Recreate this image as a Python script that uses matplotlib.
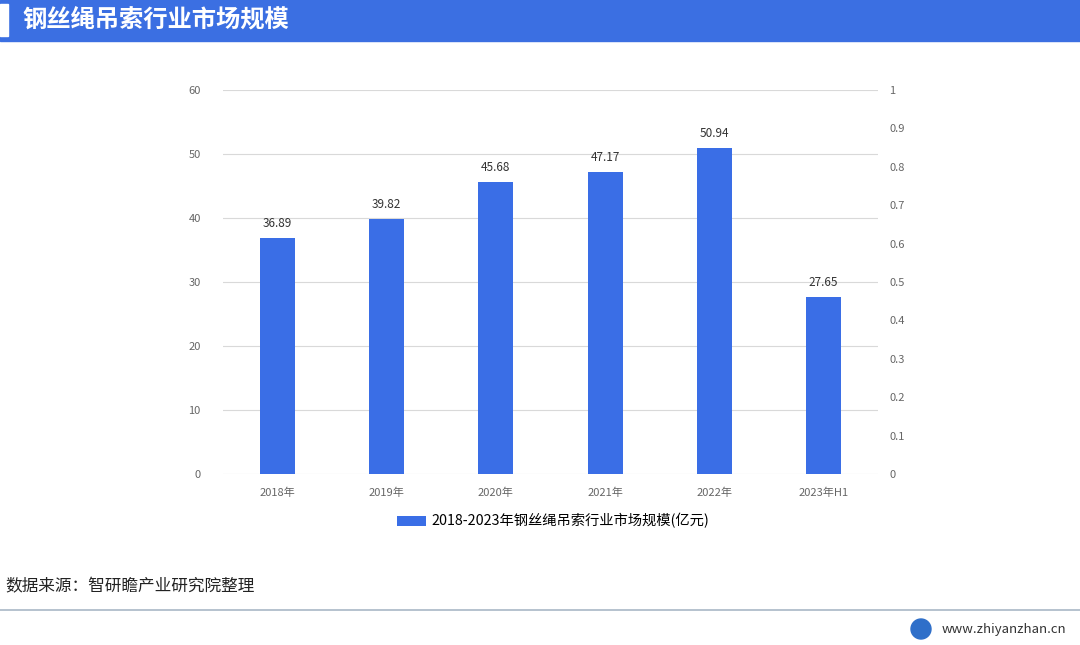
import numpy as np
import matplotlib.pyplot as plt
from matplotlib.patches import Rectangle, Ellipse

plt.rcParams['font.family'] = ['Noto Sans CJK SC', 'DejaVu Sans']

# data
categories = ['2018年', '2019年', '2020年', '2021年', '2022年', '2023年H1']
values = [36.89, 39.82, 45.68, 47.17, 50.94, 27.65]
series_name = '2018-2023年钢丝绳吊索行业市场规模(亿元)'
title = '钢丝绳吊索行业市场规模'
source = '数据来源：智研瞻产业研究院整理'
site = 'www.zhiyanzhan.cn'

blue = '#3a6ee6'
W, H = 1080, 645
fig = plt.figure(figsize=(W / 100, H / 100), dpi=100)

# header bar
fig.patches.append(Rectangle((0, 1 - 41 / H), 1, 41 / H, transform=fig.transFigure,
                             color='#3b6fe2', zorder=0))
fig.patches.append(Rectangle((0, 1 - 36 / H), 8 / W, 32 / H, transform=fig.transFigure,
                             color='white', zorder=1))
fig.text(22 / W, 1 - 19 / H, title, color='white', fontsize=17.5, fontweight='bold',
         va='center', ha='left')

# main axes
ax = fig.add_axes([223 / W, 1 - 474 / H, 655 / W, 384 / H])
x = np.arange(len(categories))
bars = ax.bar(x, values, width=0.32, color=blue, label=series_name, zorder=3)
for xi, v in zip(x, values):
    ax.text(xi, v + 1.2, f'{v:.2f}', ha='center', va='bottom', fontsize=8.5,
            color='#333333', fontweight='medium')

ax.set_xlim(-0.5, len(categories) - 0.5)
ax.set_ylim(0, 60)
ax.set_yticks(range(0, 61, 10))
ax.set_xticks(x)
ax.set_xticklabels(categories)
ax.grid(axis='y', color='#d9d9d9', linewidth=0.8, zorder=0)
for s in ax.spines.values():
    s.set_visible(False)
ax.tick_params(axis='both', length=0, labelsize=8, colors='#666666', pad=10)
ax.tick_params(axis='y', pad=16)

ax2 = ax.twinx()
ax2.set_ylim(0, 1)
ax2.set_yticks(np.round(np.arange(0, 1.01, 0.1), 1))
ax2.set_yticklabels(['0'] + [f'0.{i}' for i in range(1, 10)] + ['1'])
for s in ax2.spines.values():
    s.set_visible(False)
ax2.tick_params(axis='y', length=0, labelsize=8, colors='#666666', pad=8)

fig.legend(handles=[bars], labels=[series_name], loc='center', bbox_to_anchor=(553 / W, 1 - 521 / H),
           frameon=False, fontsize=10.3, handlelength=2.0, handleheight=0.7, handletextpad=0.4)

# footer
fig.text(5 / W, 1 - 587 / H, source, fontsize=12, color='#222222', va='center', ha='left')
fig.add_artist(plt.Line2D([0, 1], [1 - 610 / H, 1 - 610 / H], transform=fig.transFigure,
                          color='#a9b7c6', linewidth=1.2))
fig.patches.append(Ellipse((921 / W, 1 - 629 / H), 20 / W, 20 / H, transform=fig.transFigure,
                           color='#2f6fc9', zorder=2))
fig.text(942 / W, 1 - 629 / H, site, fontsize=9.5, color='#333333', va='center', ha='left')

fig.savefig('out.png', dpi=100)
